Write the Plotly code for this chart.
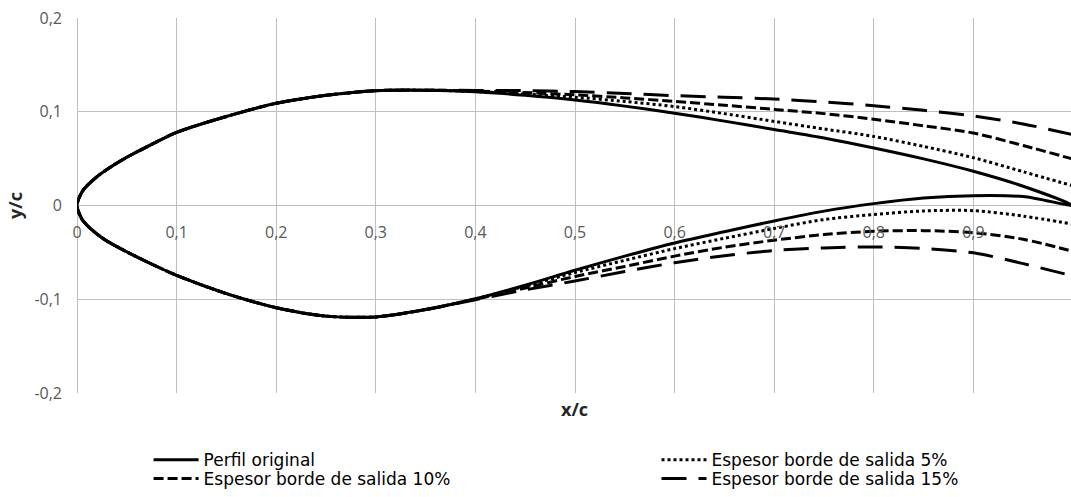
import plotly.graph_objects as go

# ---------------- data ----------------
# aft upper surface, trailing edge -> x = 0.4
x_aft_upper = [1.0, 0.95, 0.9, 0.85, 0.8, 0.75, 0.7, 0.65, 0.6, 0.55, 0.5, 0.45, 0.4]
# common forward part: upper 0.35 -> leading edge -> lower 0.35
x_fore = [0.35, 0.3, 0.25, 0.2, 0.15, 0.1, 0.07, 0.05, 0.03, 0.02, 0.01, 0.005, 0.0,
          0.005, 0.01, 0.02, 0.03, 0.05, 0.07, 0.1, 0.15, 0.2, 0.25, 0.3, 0.35]
y_fore = [0.123, 0.1225, 0.1175, 0.109, 0.095, 0.078, 0.0625, 0.0515, 0.0385, 0.0307, 0.021, 0.0145, 0.0,
          -0.0146, -0.021, -0.0304, -0.0379, -0.0495, -0.060, -0.0745, -0.094, -0.109, -0.118, -0.1188, -0.111]
# aft lower surface, x = 0.4 -> trailing edge
x_aft_lower = [0.4, 0.45, 0.5, 0.55, 0.6, 0.65, 0.7, 0.75, 0.8, 0.85, 0.9, 0.95, 1.0]

upper_original = [0.0, 0.0205, 0.0365, 0.0497, 0.0613, 0.072, 0.081, 0.090, 0.0985, 0.106, 0.1125, 0.1175, 0.1213]
lower_original = [-0.0995, -0.085, -0.069, -0.054, -0.040, -0.028, -0.0165, -0.006, 0.002, 0.008, 0.0105, 0.0095, 0.0]

upper_5 = [0.021, 0.036, 0.051, 0.063, 0.0737, 0.0816, 0.0897, 0.098, 0.1055, 0.111, 0.1155, 0.1188, 0.1215]
lower_5 = [-0.0995, -0.086, -0.0715, -0.0585, -0.046, -0.035, -0.0245, -0.015, -0.0096, -0.0058, -0.0055, -0.0113, -0.020]

upper_10 = [0.0495, 0.064, 0.0773, 0.085, 0.092, 0.098, 0.1025, 0.107, 0.111, 0.1148, 0.118, 0.1205, 0.122]
lower_10 = [-0.100, -0.088, -0.0757, -0.065, -0.054, -0.0445, -0.037, -0.031, -0.0275, -0.0268, -0.029, -0.036, -0.049]

upper_15 = [0.0755, 0.087, 0.0955, 0.1015, 0.1064, 0.1105, 0.1135, 0.1155, 0.1172, 0.1195, 0.1215, 0.1225, 0.1228]
lower_15 = [-0.1005, -0.090, -0.0805, -0.0705, -0.061, -0.0535, -0.048, -0.0452, -0.0442, -0.0458, -0.0505, -0.062, -0.0752]

series_names = ["Perfil original", "Espesor borde de salida 5%",
                "Espesor borde de salida 10%", "Espesor borde de salida 15%"]

x_tickvals = [0, 0.1, 0.2, 0.3, 0.4, 0.5, 0.6, 0.7, 0.8, 0.9, 1.0]
x_ticktext = ["0", "0,1", "0,2", "0,3", "0,4", "0,5", "0,6", "0,7", "0,8", "0,9", "1"]
y_tickvals = [-0.2, -0.1, 0, 0.1, 0.2]
y_ticktext = ["-0,2", "-0,1", "0", "0,1", "0,2"]

# ---------------- figure ----------------
FONT = "Open Sans"
LEGFONT = "DejaVu Sans"
styles = [
    dict(dash="solid", legend="legend"),
    dict(dash="3px,3px", legend="legend2"),
    dict(dash="10px,4px", legend="legend3"),
    dict(dash="25px,12px", legend="legend4"),
]
uppers = [upper_original, upper_5, upper_10, upper_15]
lowers = [lower_original, lower_5, lower_10, lower_15]

fig = go.Figure()
for name, up, lo, st in zip(series_names, uppers, lowers, styles):
    xs = x_aft_upper + x_fore + x_aft_lower
    ys = up + y_fore + lo
    fig.add_trace(go.Scatter(
        x=xs, y=ys, mode="lines", name=name,
        line=dict(color="black", width=3, dash=st["dash"], shape="spline", smoothing=0.8),
        legend=st["legend"],
    ))

grid = "#bfbfbf"
tickfont = dict(family=FONT, size=16, color="#595959")
legfont = dict(family=LEGFONT, size=17, color="#000000")

def leg(xp, yp):
    return dict(x=xp, y=yp, xanchor="left", yanchor="middle", bgcolor="rgba(0,0,0,0)",
                font=legfont, itemwidth=45, borderwidth=0, tracegroupgap=0)

fig.update_layout(
    width=1071, height=497,
    margin=dict(l=77, r=0, t=18, b=103),
    plot_bgcolor="white", paper_bgcolor="white",
    font=dict(family=FONT),
    showlegend=True,
    legend=leg(0.072, -0.176),
    legend2=leg(0.583, -0.176),
    legend3=leg(0.072, -0.229),
    legend4=leg(0.583, -0.229),
    xaxis=dict(
        range=[0, 0.998], anchor="free", position=0.5,
        tickvals=x_tickvals, ticktext=x_ticktext, tickfont=tickfont,
        showgrid=True, gridcolor=grid, gridwidth=1,
        zeroline=True, zerolinecolor=grid, zerolinewidth=1,
        showline=False, ticks="", ticklabelstandoff=15,
    ),
    yaxis=dict(
        range=[-0.2, 0.2], tickvals=y_tickvals, ticktext=y_ticktext, tickfont=tickfont,
        showgrid=True, gridcolor=grid, gridwidth=1,
        zeroline=True, zerolinecolor=grid, zerolinewidth=1,
        showline=False, ticks="", ticklabelstandoff=14,
        title=dict(text="y/c", font=dict(family=FONT, size=18, color="#262626", weight="bold"), standoff=7),
    ),
    annotations=[dict(
        text="x/c", xref="paper", yref="paper", x=0.5, y=0, yshift=-16,
        xanchor="center", yanchor="middle", showarrow=False,
        font=dict(family=FONT, size=18, color="#262626", weight="bold"),
    )],
)

fig.write_html("out.html")
